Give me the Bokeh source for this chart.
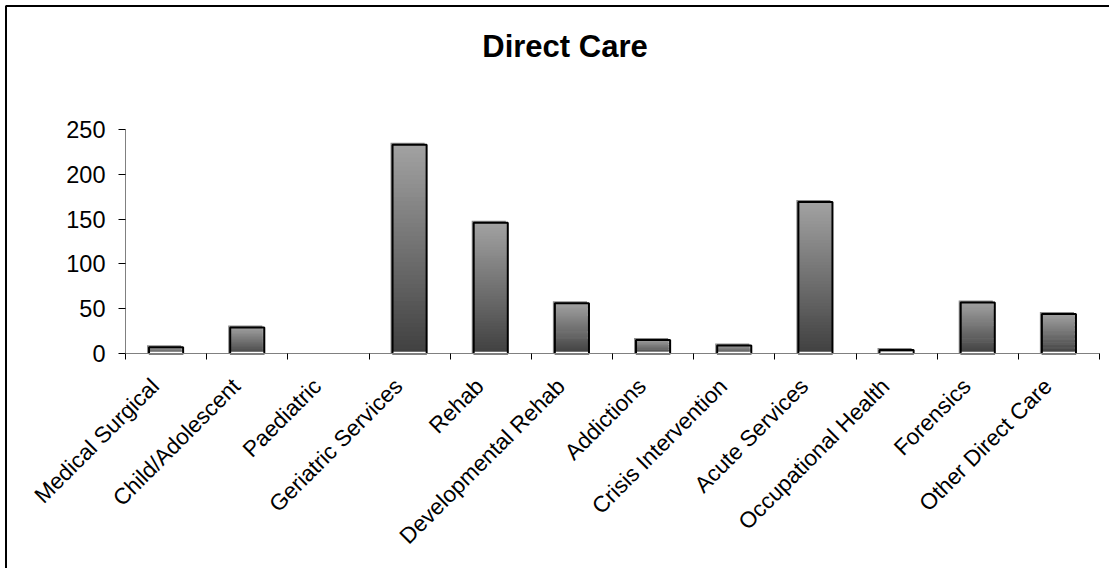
import math
import numpy as np
from bokeh.plotting import figure
from bokeh.models import Range1d, FixedTicker, CustomJSTickFormatter, LinearAxis, Label
from bokeh.embed import file_html
from bokeh.resources import INLINE

categories = ["Medical Surgical", "Child/Adolescent", "Paediatric", "Geriatric Services",
              "Rehab", "Developmental Rehab", "Addictions", "Crisis Intervention",
              "Acute Services", "Occupational Health", "Forensics", "Other Direct Care"]
values = [7, 29, 0, 233, 146, 56, 15, 9, 169, 4, 57, 44]
y_ticks = [0, 50, 100, 150, 200, 250]
title_text = "Direct Care"

FONT = "Liberation Sans"
W, H = 1109, 568
n = len(categories)
y_max = 250

# layout geometry (pixels on the canvas)
AX_LEFT, AX_RIGHT = 125, 1099
AX_TOP, AX_BOTTOM = 129, 353
px_x = (AX_RIGHT - AX_LEFT) / n
px_y = (AX_BOTTOM - AX_TOP) / y_max
x0 = -AX_LEFT / px_x
x1 = x0 + W / px_x
y0 = -(H - AX_BOTTOM) / px_y
y1 = y_max + AX_TOP / px_y

p = figure(width=W, height=H, output_backend="svg", toolbar_location=None,
           x_range=Range1d(x0, x1), y_range=Range1d(y0, y1),
           x_axis_location=None, y_axis_location=None, min_border=0)
p.min_border_left = p.min_border_right = p.min_border_top = p.min_border_bottom = 0
p.title.visible = False
p.outline_line_color = None
p.xgrid.visible = False
p.ygrid.visible = False
p.background_fill_color = "white"
p.border_fill_color = "white"

centers = [i + 0.5 for i in range(n)]
bw = 0.42
dx = 2 / px_x
dy = 2 / px_y

# chart border (left and top edges of the chart area), kept inside the canvas
bx = (5.5 - AX_LEFT) / px_x
by = (AX_BOTTOM - 5.5) / px_y
p.line(x=[bx, bx, x1 - 0.2 / px_x], y=[y0 + 0.2 / px_y, by, by],
       line_color="black", line_width=2)

# shadow
sh_l, sh_r, sh_t = [], [], []
for c, v in zip(centers, values):
    if v > 0:
        sh_l.append(c - bw / 2 - dx)
        sh_r.append(c + bw / 2 - dx)
        sh_t.append(v + dy)
p.quad(left=sh_l, right=sh_r, bottom=0, top=sh_t, fill_color="#8c8c8c", line_color=None)

# gradient bars
N = 48
lo = np.array([64, 64, 64])
hi = np.array([162, 162, 162])
L, R, B, T, C = [], [], [], [], []
for c, v in zip(centers, values):
    if v <= 0:
        continue
    for k in range(N):
        f = (k + 0.5) / N
        col = lo + (hi - lo) * f
        L.append(c - bw / 2)
        R.append(c + bw / 2)
        B.append(v * k / N)
        T.append(min(v, v * (k + 1.4) / N))
        C.append("#%02x%02x%02x" % tuple(int(round(x)) for x in col))
p.quad(left=L, right=R, bottom=B, top=T, fill_color=C, line_color=None)

# outlines
oc = [c for c, v in zip(centers, values) if v > 0]
ov = [v for v in values if v > 0]
p.vbar(x=oc, width=bw, top=ov, bottom=0, fill_alpha=0, line_color="black", line_width=2)
p.segment(x0=[c - bw / 2 + 0.012 for c in oc], x1=[c + bw / 2 - 0.012 for c in oc],
          y0=1.2, y1=1.2, line_color="white", line_width=1.5)

# axes (fixed at the data origin)
xa = LinearAxis(fixed_location=0, bounds=(0, n))
xa.ticker = FixedTicker(ticks=[c - 0.135 for c in centers], minor_ticks=list(range(n + 1)))
xa.formatter = CustomJSTickFormatter(args=dict(labels=categories),
                                     code="return labels[Math.floor(tick)] || '';")
xa.major_tick_in = 0
xa.major_tick_out = 0
xa.minor_tick_in = 0
xa.minor_tick_out = 6
xa.minor_tick_line_color = "black"
xa.axis_line_color = "#808080"
xa.major_label_orientation = math.pi / 4
xa.major_label_text_font = FONT
xa.major_label_text_font_size = "22.5px"
xa.major_label_text_color = "black"
xa.major_label_standoff = 23
p.add_layout(xa, "below")

ya = LinearAxis(fixed_location=0, bounds=(0, y_max))
ya.ticker = FixedTicker(ticks=y_ticks)
ya.major_tick_in = 0
ya.major_tick_out = 7
ya.minor_tick_out = 0
ya.minor_tick_in = 0
ya.major_tick_line_color = "black"
ya.axis_line_color = "#808080"
ya.major_label_text_font = FONT
ya.major_label_text_font_size = "23.5px"
ya.major_label_text_color = "black"
ya.major_label_standoff = 13
p.add_layout(ya, "left")

# title
p.add_layout(Label(x=(564.5 - AX_LEFT) / px_x, y=(AX_BOTTOM - 46) / px_y, text=title_text,
                   text_font=FONT, text_font_style="bold", text_font_size="31px",
                   text_align="center", text_baseline="alphabetic", text_color="black"))

open("out.html", "w").write(file_html(p, INLINE))
